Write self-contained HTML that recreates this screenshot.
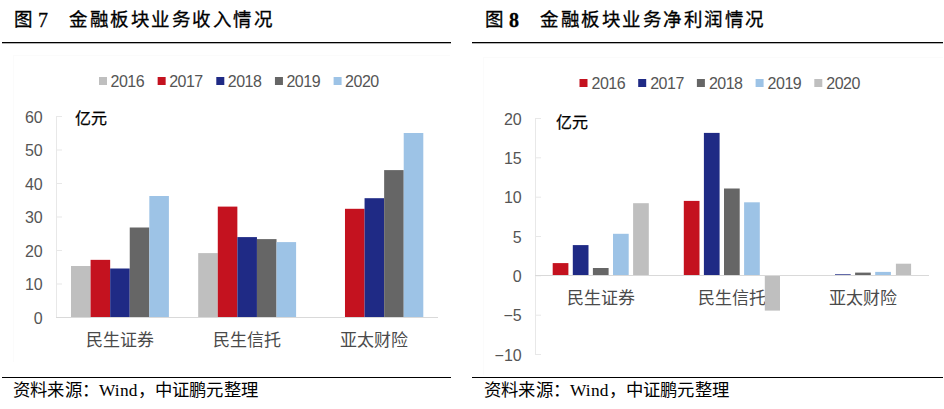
<!DOCTYPE html>
<html lang="zh-CN"><head><meta charset="utf-8">
<style>
html,body{margin:0;padding:0;background:#fff;width:944px;height:409px;overflow:hidden;}
svg{position:absolute;left:0;top:0;}
.ax{font-family:"Liberation Sans",sans-serif;font-size:16px;fill:#555;}
.lg{font-family:"Liberation Sans",sans-serif;font-size:16px;letter-spacing:-0.5px;fill:#555;}
.unit{font-family:"Liberation Sans",sans-serif;font-size:16px;fill:#000;stroke:#000;stroke-width:0.25px;}
.cat{font-family:"Liberation Sans",sans-serif;font-size:17px;fill:#4a4a4a;}
.ttl{font-family:"Liberation Serif",serif;font-size:18.5px;letter-spacing:1.5px;fill:#000;stroke:#000;stroke-width:0.3px;}
.dg{font-family:"Liberation Serif",serif;font-size:20px;fill:#000;stroke:#000;stroke-width:0.3px;}
.src{font-family:"Liberation Serif",serif;font-size:17.33px;letter-spacing:0.2px;fill:#000;}
</style></head><body>
<svg width="944" height="409" viewBox="0 0 944 409">
<rect x="13" y="55" width="437" height="1" fill="#FBFBFB"/><rect x="13" y="55" width="1" height="307" fill="#FBFBFB"/>
<rect x="483" y="57" width="460" height="1" fill="#FBFBFB"/><rect x="483" y="57" width="1" height="318" fill="#FBFBFB"/>
<rect x="2" y="42" width="449" height="1.3" fill="#000"/>
<rect x="472" y="42" width="471" height="1.3" fill="#000"/>
<rect x="2" y="377" width="449" height="1" fill="#000"/>
<rect x="472" y="377" width="471" height="1" fill="#000"/>
<text x="14" y="26" class="ttl">图</text><text x="38" y="27" class="dg">7</text>
<text x="69" y="26" class="ttl">金融板块业务收入情况</text>
<text x="485" y="26" class="ttl">图</text><text x="509" y="27" class="dg" font-weight="bold" stroke-width="0">8</text>
<text x="540" y="26" class="ttl">金融板块业务净利润情况</text>
<text x="13" y="396" class="src">资料来源：Wind，中证鹏元整理</text>
<text x="484" y="396" class="src">资料来源：Wind，中证鹏元整理</text>
<rect x="56" y="116" width="1" height="202" fill="#E8E8E8"/><rect x="56" y="116.00" width="6" height="1" fill="#E8E8E8"/><rect x="56" y="149.50" width="6" height="1" fill="#E8E8E8"/><rect x="56" y="183.00" width="6" height="1" fill="#E8E8E8"/><rect x="56" y="216.50" width="6" height="1" fill="#E8E8E8"/><rect x="56" y="250.00" width="6" height="1" fill="#E8E8E8"/><rect x="56" y="283.50" width="6" height="1" fill="#E8E8E8"/><rect x="56" y="317.00" width="6" height="1" fill="#E8E8E8"/><rect x="56" y="317" width="382" height="1" fill="#D9D9D9"/><rect x="535" y="118" width="1" height="237" fill="#E8E8E8"/><rect x="535" y="118.00" width="6" height="1" fill="#E8E8E8"/><rect x="535" y="157.33" width="6" height="1" fill="#E8E8E8"/><rect x="535" y="196.67" width="6" height="1" fill="#E8E8E8"/><rect x="535" y="236.00" width="6" height="1" fill="#E8E8E8"/><rect x="535" y="275.33" width="6" height="1" fill="#E8E8E8"/><rect x="535" y="314.67" width="6" height="1" fill="#E8E8E8"/><rect x="535" y="354.00" width="6" height="1" fill="#E8E8E8"/><rect x="535" y="275" width="394" height="1" fill="#D9D9D9"/>
<text x="600.70" y="304" class="cat" text-anchor="middle">民生证券</text><text x="731.80" y="304" class="cat" text-anchor="middle">民生信托</text><text x="862.90" y="304" class="cat" text-anchor="middle">亚太财险</text>
<rect x="71.00" y="266.00" width="19.58" height="51.00" fill="#BFBFBF"/><rect x="90.58" y="259.85" width="19.58" height="57.15" fill="#C4121F"/><rect x="110.16" y="268.50" width="19.58" height="48.50" fill="#1F2A85"/><rect x="129.74" y="227.50" width="19.58" height="89.50" fill="#666666"/><rect x="149.32" y="196.00" width="19.58" height="121.00" fill="#9DC3E6"/><rect x="198.20" y="253.10" width="19.58" height="63.90" fill="#BFBFBF"/><rect x="217.78" y="206.60" width="19.58" height="110.40" fill="#C4121F"/><rect x="237.36" y="237.10" width="19.58" height="79.90" fill="#1F2A85"/><rect x="256.94" y="239.10" width="19.58" height="77.90" fill="#666666"/><rect x="276.52" y="242.10" width="19.58" height="74.90" fill="#9DC3E6"/><rect x="344.98" y="208.80" width="19.58" height="108.20" fill="#C4121F"/><rect x="364.56" y="198.20" width="19.58" height="118.80" fill="#1F2A85"/><rect x="384.14" y="170.10" width="19.58" height="146.90" fill="#666666"/><rect x="403.72" y="133.00" width="19.58" height="184.00" fill="#9DC3E6"/><rect x="552.70" y="263.10" width="15.70" height="11.90" fill="#C4121F"/><rect x="572.80" y="245.10" width="15.70" height="29.90" fill="#1F2A85"/><rect x="592.90" y="268.00" width="15.70" height="7.00" fill="#666666"/><rect x="613.00" y="233.80" width="15.70" height="41.20" fill="#9DC3E6"/><rect x="633.10" y="203.20" width="15.70" height="71.80" fill="#BFBFBF"/><rect x="683.80" y="200.90" width="15.70" height="74.10" fill="#C4121F"/><rect x="703.90" y="132.90" width="15.70" height="142.10" fill="#1F2A85"/><rect x="724.00" y="188.50" width="15.70" height="86.50" fill="#666666"/><rect x="744.10" y="202.30" width="15.70" height="72.70" fill="#9DC3E6"/><rect x="764.80" y="276.00" width="15.20" height="34.60" fill="#BFBFBF"/><rect x="835.00" y="274.30" width="15.70" height="0.70" fill="#1F2A85"/><rect x="855.10" y="272.60" width="15.70" height="2.40" fill="#666666"/><rect x="875.20" y="271.90" width="15.70" height="3.10" fill="#9DC3E6"/><rect x="895.90" y="263.70" width="15.20" height="11.30" fill="#BFBFBF"/><rect x="99.00" y="77.00" width="8.00" height="8.00" fill="#BFBFBF"/><rect x="579.50" y="79.00" width="8.00" height="8.00" fill="#C4121F"/><rect x="157.65" y="77.00" width="8.00" height="8.00" fill="#C4121F"/><rect x="638.20" y="79.00" width="8.00" height="8.00" fill="#1F2A85"/><rect x="216.30" y="77.00" width="8.00" height="8.00" fill="#1F2A85"/><rect x="696.90" y="79.00" width="8.00" height="8.00" fill="#666666"/><rect x="274.95" y="77.00" width="8.00" height="8.00" fill="#666666"/><rect x="755.60" y="79.00" width="8.00" height="8.00" fill="#9DC3E6"/><rect x="333.60" y="77.00" width="8.00" height="8.00" fill="#9DC3E6"/><rect x="814.30" y="79.00" width="8.00" height="8.00" fill="#BFBFBF"/>
<text x="42.7" y="122.80" class="ax" text-anchor="end">60</text><text x="42.7" y="156.30" class="ax" text-anchor="end">50</text><text x="42.7" y="189.80" class="ax" text-anchor="end">40</text><text x="42.7" y="223.30" class="ax" text-anchor="end">30</text><text x="42.7" y="256.80" class="ax" text-anchor="end">20</text><text x="42.7" y="290.30" class="ax" text-anchor="end">10</text><text x="42.7" y="323.80" class="ax" text-anchor="end">0</text><text x="521.7" y="124.80" class="ax" text-anchor="end">20</text><text x="521.7" y="164.13" class="ax" text-anchor="end">15</text><text x="521.7" y="203.47" class="ax" text-anchor="end">10</text><text x="521.7" y="242.80" class="ax" text-anchor="end">5</text><text x="521.7" y="282.13" class="ax" text-anchor="end">0</text><text x="521.7" y="321.47" class="ax" text-anchor="end">−5</text><text x="521.7" y="360.80" class="ax" text-anchor="end">−10</text><text x="110.50" y="87" class="lg" text-anchor="start">2016</text><text x="591.50" y="89" class="lg" text-anchor="start">2016</text><text x="169.15" y="87" class="lg" text-anchor="start">2017</text><text x="650.20" y="89" class="lg" text-anchor="start">2017</text><text x="227.80" y="87" class="lg" text-anchor="start">2018</text><text x="708.90" y="89" class="lg" text-anchor="start">2018</text><text x="286.45" y="87" class="lg" text-anchor="start">2019</text><text x="767.60" y="89" class="lg" text-anchor="start">2019</text><text x="345.10" y="87" class="lg" text-anchor="start">2020</text><text x="826.30" y="89" class="lg" text-anchor="start">2020</text><text x="74.5" y="123.5" class="unit" text-anchor="start">亿元</text><text x="556" y="127.5" class="unit" text-anchor="start">亿元</text><text x="120.00" y="346" class="cat" text-anchor="middle">民生证券</text><text x="247.20" y="346" class="cat" text-anchor="middle">民生信托</text><text x="374.40" y="346" class="cat" text-anchor="middle">亚太财险</text>
</svg>
</body></html>
